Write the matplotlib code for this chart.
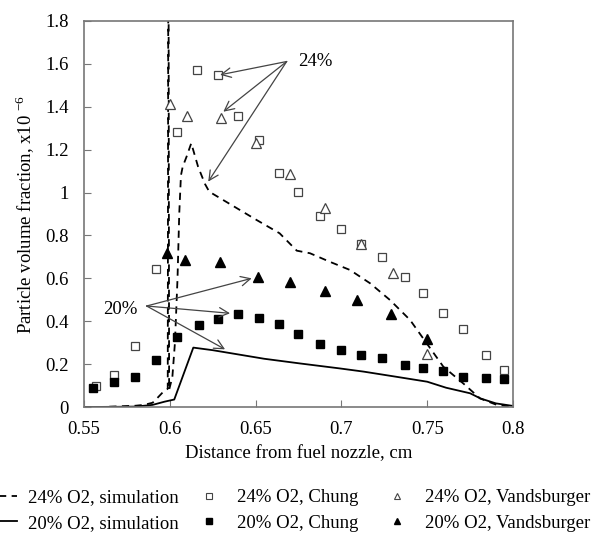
import matplotlib
matplotlib.use('Agg')
import matplotlib.pyplot as plt
from matplotlib.ticker import FuncFormatter
from matplotlib.lines import Line2D

plt.rcParams['font.family'] = ['Liberation Serif', 'DejaVu Serif']
plt.rcParams['mathtext.fontset'] = 'custom'
plt.rcParams['mathtext.rm'] = 'Liberation Serif'

# simulation curves
x_sim24 = [0.55, 0.56, 0.57, 0.58, 0.585, 0.59, 0.5925, 0.5962, 0.5988, 0.5992, 0.5996,
           0.6015, 0.603, 0.6045, 0.6055, 0.6065, 0.6075, 0.6098, 0.6125, 0.6165, 0.6205,
           0.623, 0.6506, 0.664, 0.674, 0.6817, 0.693, 0.705, 0.7167, 0.7283, 0.74,
           0.7497, 0.7594, 0.771, 0.7808, 0.7905, 0.80]
y_sim24 = [0.0, 0.0, 0.003, 0.006, 0.01, 0.02, 0.04, 0.071, 0.085, 2.5, 0.08,
           0.14, 0.3, 0.6, 0.9, 1.08, 1.12, 1.168, 1.23, 1.12, 1.04,
           1.004, 0.872, 0.81, 0.729, 0.717, 0.678, 0.639, 0.577, 0.499, 0.406,
           0.297, 0.188, 0.11, 0.04, 0.01, 0.0]

x_sim20 = [0.55, 0.57, 0.58, 0.59, 0.597, 0.6026, 0.6137, 0.625, 0.64, 0.655, 0.676,
           0.699, 0.713, 0.732, 0.75, 0.761, 0.775, 0.781, 0.79, 0.80]
y_sim20 = [0.0, 0.001, 0.002, 0.01, 0.025, 0.035, 0.277, 0.265, 0.245, 0.225, 0.203,
           0.18, 0.165, 0.141, 0.118, 0.09, 0.064, 0.04, 0.017, 0.005]

# Chung measurements
x_chung = [0.5568, 0.5677, 0.580, 0.5921, 0.604, 0.6159, 0.628, 0.640, 0.652, 0.6638,
           0.6749, 0.6877, 0.6998, 0.7116, 0.7237, 0.7372, 0.7477, 0.759, 0.7709,
           0.7841, 0.7948]
y_chung24 = [0.099, 0.149, 0.286, 0.644, 1.284, 1.572, 1.55, 1.359, 1.244, 1.091,
             1.003, 0.889, 0.829, 0.759, 0.698, 0.608, 0.530, 0.44, 0.362, 0.243, 0.174]
x_chung20 = [0.5554, 0.5677, 0.580, 0.5921, 0.604, 0.6168, 0.6279, 0.640, 0.652, 0.6638,
             0.6749, 0.6877, 0.6998, 0.7116, 0.7237, 0.7372, 0.7477, 0.759, 0.7709,
             0.7841, 0.7948]
y_chung20 = [0.090, 0.115, 0.141, 0.221, 0.325, 0.381, 0.409, 0.434, 0.417, 0.387,
             0.342, 0.295, 0.266, 0.241, 0.227, 0.194, 0.182, 0.168, 0.14, 0.135, 0.129]

# Vandsburger measurements
x_vand24 = [0.6001, 0.6098, 0.630, 0.650, 0.6702, 0.6904, 0.7112, 0.730, 0.750]
y_vand24 = [1.413, 1.359, 1.346, 1.233, 1.088, 0.928, 0.760, 0.625, 0.246]
x_vand20 = [0.5985, 0.609, 0.629, 0.6516, 0.6702, 0.6904, 0.7089, 0.729, 0.750]
y_vand20 = [0.717, 0.686, 0.678, 0.608, 0.585, 0.543, 0.499, 0.434, 0.316]

# annotation arrows
pos24 = (0.6681, 1.611)
tips24 = [(0.6293, 1.549), (0.6312, 1.377), (0.6224, 1.051)]
pos20 = (0.5865, 0.471)
tips20 = [(0.6477, 0.600), (0.6351, 0.437), (0.6322, 0.269)]

fig = plt.figure(figsize=(5.97, 5.34), dpi=100)
ax = fig.add_axes([0.1407, 0.2378, 0.7186, 0.7229])

ax.plot(x_sim24, y_sim24, color='black', ls=(0, (4, 3)), lw=1.3)
ax.plot(x_sim20, y_sim20, color='black', ls='-', lw=1.3)
ax.plot(x_chung, y_chung24, ls='none', marker='s', ms=6, mfc='white', mec='#444444', mew=0.9)
ax.plot(x_vand24, y_vand24, ls='none', marker='^', ms=7, mfc='white', mec='#444444', mew=0.9)
ax.plot(x_chung20, y_chung20, ls='none', marker='s', ms=6, color='black')
ax.plot(x_vand20, y_vand20, ls='none', marker='^', ms=7, color='black')

arrow = dict(arrowstyle='->', color='#444444', lw=0.9, mutation_scale=17, shrinkA=0, shrinkB=0)
for t in tips24:
    ax.annotate('', xy=t, xytext=pos24, arrowprops=arrow)
for t in tips20:
    ax.annotate('', xy=t, xytext=pos20, arrowprops=arrow)
ax.text(0.6747, 1.611, '24%', fontsize=13.5, va='center', ha='left')
ax.text(0.5809, 0.457, '20%', fontsize=13.5, va='center', ha='right')

ax.set_xlim(0.55, 0.8)
ax.set_ylim(0, 1.8)
ax.set_xticks([0.55, 0.6, 0.65, 0.7, 0.75, 0.8])
ax.set_yticks([0, 0.2, 0.4, 0.6, 0.8, 1.0, 1.2, 1.4, 1.6, 1.8])
fmt = FuncFormatter(lambda v, p: '%g' % round(v, 2))
ax.xaxis.set_major_formatter(fmt)
ax.yaxis.set_major_formatter(fmt)
ax.tick_params(direction='in', length=5, color='#777777', labelsize=13.5)
ax.tick_params(axis='x', pad=10)
ax.tick_params(axis='y', pad=11)
for s in ax.spines.values():
    s.set_color('#777777')
    s.set_linewidth(1.2)

ax.set_xlabel('Distance from fuel nozzle, cm', fontsize=13.5, labelpad=5)
ax.set_ylabel('Particle volume fraction, x10 $^{\\mathregular{-6}}$', fontsize=13.5, labelpad=6)

h_d24 = Line2D([], [], color='black', ls=(0, (4, 3)), lw=1.3)
h_s20 = Line2D([], [], color='black', ls='-', lw=1.3)
h_c24 = Line2D([], [], ls='none', marker='s', ms=4, mfc='white', mec='#444444', mew=0.8)
h_c20 = Line2D([], [], ls='none', marker='s', ms=4, color='black')
h_v24 = Line2D([], [], ls='none', marker='^', ms=4.5, mfc='white', mec='#444444', mew=0.8)
h_v20 = Line2D([], [], ls='none', marker='^', ms=4.5, color='black')

leg_kw = dict(loc='upper left', frameon=False, fontsize=13.5, borderpad=0, borderaxespad=0,
              handlelength=1.8, handletextpad=0.6, labelspacing=0.45)
fig.legend([h_d24, h_s20], ['24% O2, simulation', '20% O2, simulation'],
           bbox_to_anchor=(-0.0285, 0.0843), **leg_kw)
fig.legend([h_c24, h_c20], ['24% O2, Chung', '20% O2, Chung'],
           bbox_to_anchor=(0.3216, 0.0843), **leg_kw)
fig.legend([h_v24, h_v20], ['24% O2, Vandsburger', '20% O2, Vandsburger'],
           bbox_to_anchor=(0.6365, 0.0843), **leg_kw)

fig.savefig('out.png', dpi=100)
